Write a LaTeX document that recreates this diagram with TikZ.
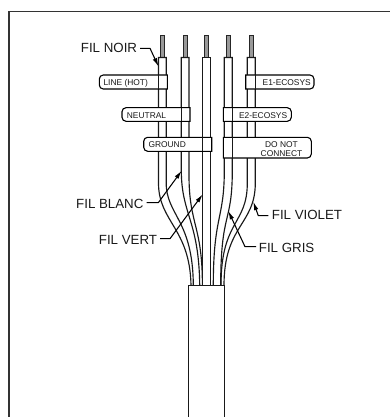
\documentclass[tikz,border=0pt]{standalone}
\usepackage{fontspec}
\setmainfont{Liberation Sans}
\usetikzlibrary{arrows.meta}
\tikzset{
  frameline/.style={line width=1.6pt,draw=black!80},
  wire/.style={line width=1.15pt,draw=black!90},
  strand/.style={line width=1pt,draw=black!85,fill=black!40},
  flag/.style={line width=1.1pt,draw=black,fill=white},
  biglabel/.style={inner sep=0pt,font=\fontsize{13.3}{15}\selectfont,text=black!90},
  smalllabel/.style={inner sep=0pt,font=\fontsize{8.4}{9.3}\selectfont,text=black!90},
  leader/.style={line width=1.05pt,draw=black,-{Latex[length=8.5pt,width=4.5pt]}},
}
\newcommand{\leftflag}[5]{% L,R,T,B,inner line x
  \draw[flag] (#2,#3) -- (#1+4,#3) arc[start angle=-90,delta angle=-90,radius=4] -- (#1,#4-4) arc[start angle=180,delta angle=-90,radius=4] -- (#2,#4) -- cycle;
  \draw[wire] (#5,#3) -- (#5,#4);
}
\newcommand{\rightflag}[5]{%
  \draw[flag] (#1,#3) -- (#2-4,#3) arc[start angle=-90,delta angle=90,radius=4] -- (#2,#4-4) arc[start angle=0,delta angle=90,radius=4] -- (#1,#4) -- cycle;
  \draw[wire] (#5,#3) -- (#5,#4);
}
\begin{document}
\begin{tikzpicture}[x=1pt,y=-1pt]
\useasboundingbox (0,0) rectangle (390,417);
% frame
\draw[frameline] (9,417) -- (9,11.5) -- (390,11.5);
% stripped conductors
\foreach \c in {162.2,185.1,206.8,228.2,251.2}{
  \draw[strand] (\c-1.9,36) rectangle (\c+1.9,57.5);
}
% wires
\draw[wire] (191,285.5) .. controls (190,228) and (158.5,222) .. (158.5,183) -- (158.5,57.5) -- (166.2,57.5) -- (166.2,183) .. controls (166.2,215) and (193,220) .. (193.3,285.5);
\draw[wire] (199.7,285.5) .. controls (199,220) and (181.3,215) .. (181.3,170) -- (181.3,57.5) -- (189,57.5) -- (189,175) .. controls (189,225) and (202.4,225) .. (202.4,285.5);
\draw[wire] (202.7,285.5) -- (202.7,57.5) -- (210.7,57.5) -- (210.7,285.5);
\draw[wire] (213.3,285.5) .. controls (213.3,215) and (224.3,220) .. (224.3,170) -- (224.3,57.5) -- (232.3,57.5) -- (232.3,170) .. controls (232.3,225) and (220.7,210) .. (220.7,285.5);
\draw[wire] (221,285.5) .. controls (221,220) and (247.3,225) .. (247.3,183) -- (247.3,57.5) -- (255.3,57.5) -- (255.3,183) .. controls (255.3,225) and (224,225) .. (224,285.5);
% cable jacket
\draw[wire] (188.7,417) -- (188.7,285.5) -- (224.3,285.5) -- (224.3,417);
% flags
\leftflag{99.3}{167.3}{75}{89}{158.5}
\leftflag{122}{190}{107.7}{121.3}{181.3}
\leftflag{143.7}{211.7}{137.3}{151.3}{202.7}
\rightflag{245.7}{314}{75}{89}{255.3}
\rightflag{223.4}{291.3}{107.7}{121.3}{232.3}
\rightflag{223.4}{311.3}{137.3}{158}{232.3}
% flag texts
\node[smalllabel,anchor=base west] (hot) at (103.3,85.2) {LINE (HOT)};
\node[smalllabel,anchor=base west] (neutral) at (126.7,118) {NEUTRAL};
\node[smalllabel,anchor=base west] (ground) at (148.3,147.6) {GROUND};
\node[smalllabel,anchor=base east] (eone) at (311,85.2) {E1-ECOSYS};
\node[smalllabel,anchor=base east] (etwo) at (287.3,118) {E2-ECOSYS};
\node[smalllabel,anchor=base] (dnc) at (281.5,147) {DO NOT};
\node[smalllabel,anchor=base] (conn) at (281.5,156.3) {CONNECT};
% callouts
\node[biglabel,anchor=base west] (noir) at (80.7,52.7) {FIL NOIR};
\node[biglabel,anchor=base west] (blanc) at (76,208) {FIL BLANC};
\node[biglabel,anchor=base west] (vert) at (98.7,244) {FIL VERT};
\node[biglabel,anchor=base west] (violet) at (271.7,219.8) {FIL VIOLET};
\node[biglabel,anchor=base west] (gris) at (258.7,252) {FIL GRIS};
\coordinate (tnoir) at (158.5,66.5);
\coordinate (tblanc) at (181.7,170.7);
\coordinate (tvert) at (202.7,194.3);
\coordinate (tviolet) at (253.3,201.7);
\coordinate (tgris) at (228.3,211);
\coordinate (snoir) at (140,48.3);
\coordinate (sblanc) at (146.7,202.7);
\coordinate (svert) at (160,238.7);
\coordinate (sviolet) at (268.3,215.7);
\coordinate (sgris) at (256,246.7);
\draw[leader] (snoir) -- (150,48.3) -- (tnoir);
\draw[leader] (sblanc) -- (158.3,202.7) -- (tblanc);
\draw[leader] (svert) -- (170,238.7) -- (tvert);
\draw[leader] (sviolet) -- (258.3,215.7) -- (tviolet);
\draw[leader] (sgris) -- (245,246.7) -- (tgris);
\end{tikzpicture}
\end{document}
